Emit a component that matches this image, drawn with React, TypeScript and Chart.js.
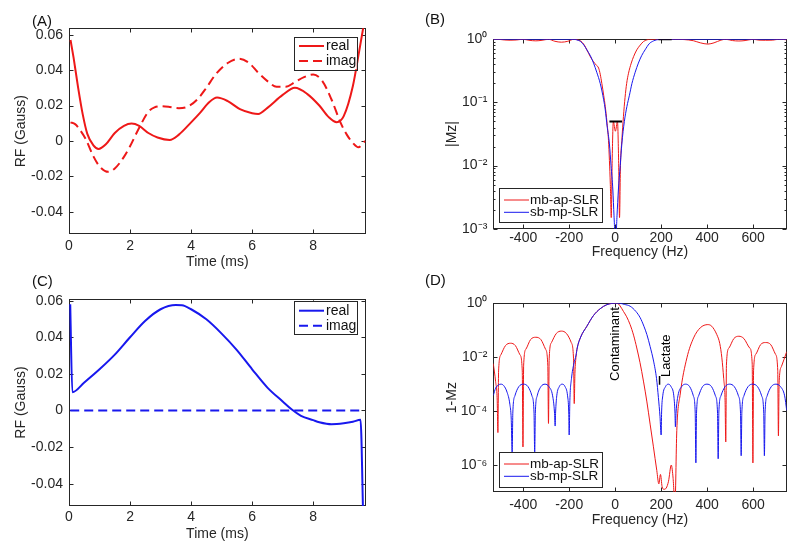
import React, { useEffect, useRef } from 'react';
import { Chart, registerables } from 'chart.js';

Chart.register(...registerables);

const FONT = "'Liberation Sans', Arial, Helvetica, sans-serif";
const INK = '#262626';
const RED = '#ee1818';
const BLUE = '#1818ee';
const BLACK = '#000000';

// ---------- Panel A : mb-ap-SLR RF (time ms, Gauss)
const aReal: [number, number][] = [
  [0.05, 0.057], [0.15, 0.047], [0.3, 0.03], [0.45, 0.015], [0.6, 0.004], [0.8, -0.0025], [0.97, -0.0045],
  [1.2, -0.002], [1.5, 0.0045], [1.8, 0.0085], [2.05, 0.0098], [2.3, 0.0085], [2.6, 0.0045], [2.9, 0.002],
  [3.3, 0.0006], [3.6, 0.0036], [4.0, 0.0105], [4.3, 0.016], [4.6, 0.022], [4.85, 0.0245], [5.2, 0.0225],
  [5.6, 0.018], [6.0, 0.0157], [6.2, 0.0153], [6.5, 0.0187], [7.0, 0.026], [7.4, 0.03], [7.8, 0.0266],
  [8.2, 0.02], [8.5, 0.0136], [8.77, 0.0106], [9.0, 0.014], [9.3, 0.031], [9.5, 0.05], [9.72, 0.072],
];
const aImag: [number, number][] = [
  [0.05, 0.0105], [0.2, 0.0095], [0.35, 0.0065], [0.55, 0.001], [0.8, -0.0087], [1.0, -0.0143], [1.28, -0.0174],
  [1.5, -0.0155], [1.8, -0.009], [2.0, -0.003], [2.3, 0.0075], [2.6, 0.0165], [2.8, 0.019], [3.0, 0.0196],
  [3.3, 0.0192], [3.6, 0.0185], [3.9, 0.0195], [4.2, 0.0234], [4.5, 0.03], [4.8, 0.0375], [5.2, 0.044],
  [5.57, 0.0464], [5.9, 0.044], [6.2, 0.0385], [6.5, 0.0338], [6.8, 0.0306], [7.1, 0.0306], [7.4, 0.0332],
  [7.7, 0.036], [8.0, 0.0375], [8.3, 0.0338], [8.6, 0.0234], [8.9, 0.0102], [9.1, 0.0036], [9.3, -0.0011],
  [9.48, -0.0036], [9.7, 0.0],
];

// ---------- Panel C : sb-mp-SLR RF
const cReal: [number, number][] = [
  [0.04, 0.058], [0.11, 0.01], [0.5, 0.0153], [1.0, 0.0225], [1.5, 0.0305], [2.0, 0.04], [2.5, 0.049],
  [3.0, 0.0553], [3.5, 0.0576], [3.7, 0.0575], [4.0, 0.0553], [4.5, 0.0498], [5.0, 0.042], [5.5, 0.033],
  [6.0, 0.0225], [6.5, 0.0125], [7.0, 0.0049], [7.3, 0.0005], [7.6, -0.0029], [8.0, -0.0053], [8.2, -0.0064],
  [8.6, -0.0075], [9.0, -0.007], [9.3, -0.0062], [9.55, -0.0051], [9.64, -0.06],
];
const cImag: [number, number][] = [[0.04, 0], [9.64, 0]];

// ---------- Panel B : |Mz| vs frequency
const bMbSLR: [number, number][] = [
  [-530, 1.0], [-505, 0.997], [-480, 0.975], [-457, 0.967], [-430, 0.975], [-401, 1.0], [-375, 0.965],
  [-345, 0.945], [-318, 0.965], [-290, 1.0], [-262, 0.93], [-234, 0.9], [-206, 0.93], [-180, 1.0],
  [-165, 0.985], [-150, 0.94], [-135, 0.82], [-123, 0.68], [-108, 0.53], [-94, 0.44], [-82, 0.39],
  [-72, 0.35], [-65, 0.28], [-58, 0.2], [-50, 0.13], [-43, 0.086], [-36, 0.05], [-29, 0.025], [-25, 0.012],
  [-21, 0.005], [-17, 0.0015], [-13, 0.012], [-8, 0.05], [1, 0.035], [10, 0.05], [15, 0.012], [19, 0.0015],
  [23, 0.01], [29, 0.025], [36, 0.06], [43, 0.12], [50, 0.2], [58, 0.29], [70, 0.42], [80, 0.53], [94, 0.68],
  [109, 0.81], [123, 0.92], [138, 0.98], [150, 1.0], [200, 1.0], [260, 1.0], [300, 0.99], [340, 0.95],
  [370, 0.88], [403, 0.84], [430, 0.88], [460, 0.97], [481, 1.0], [510, 0.955], [538, 0.94], [565, 0.955],
  [599, 1.0], [625, 0.97], [654, 0.965], [685, 0.97], [710, 1.0], [746, 0.985],
];
const bSbSLR: [number, number][] = [
  [-530, 1.0], [-200, 1.0], [-175, 0.995], [-160, 0.96], [-150, 0.92], [-135, 0.8], [-123, 0.68],
  [-108, 0.55], [-94, 0.42], [-80, 0.3], [-65, 0.2], [-50, 0.11], [-43, 0.076], [-35, 0.042], [-25, 0.022],
  [-18, 0.01], [-10, 0.0041], [-5, 0.0016], [2, 0.0006], [8, 0.0016], [14, 0.0041], [22, 0.01], [29, 0.022],
  [40, 0.05], [51, 0.086], [62, 0.13], [73, 0.2], [87, 0.3], [101, 0.42], [115, 0.55], [130, 0.68],
  [148, 0.85], [166, 0.94], [180, 0.98], [196, 0.997], [210, 1.0], [746, 1.0],
];
const bPassMark: [number, number][] = [[-25, 0.05], [30, 0.05]];
const bStopMark: [number, number][] = [[188, 1.0], [246, 1.0]];

// ---------- Panel D : 1-Mz vs frequency
const dMbSLR: [number, number][] = [
  [-530, 5.8e-3], [-520, 1.26e-3], [-513, 2.5e-4], [-510, 1.6e-5],
  [-507, 3.1e-3], [-497, 1.23e-2], [-477, 2.7e-2], [-455, 3.3e-2], [-434, 2.7e-2], [-414, 1.23e-2], [-404, 3.1e-3], [-401, 4.7e-6],
  [-398, 5.1e-3], [-388, 2.0e-2], [-368, 4.5e-2], [-345, 5.5e-2], [-323, 4.5e-2], [-303, 2.0e-2], [-293, 5.1e-3], [-290, 3.5e-5],
  [-287, 8.7e-3], [-277, 3.5e-2], [-256, 7.6e-2], [-234, 9.3e-2], [-212, 7.6e-2], [-191, 3.5e-2], [-181, 8.7e-3], [-178, 1.9e-4],
  [-175, 2.5e-3], [-170, 1.1e-2], [-165, 2.2e-2], [-150, 5.6e-2], [-123, 0.141], [-94, 0.355], [-65, 0.631], [-36, 0.891], [-10, 1.0], [10, 1.0],
  [20, 0.83], [36, 0.5], [50, 0.316], [65, 0.162], [80, 6.6e-2], [94, 2.2e-2], [108, 6.3e-3], [123, 1.3e-3], [138, 2.2e-4], [152, 3.3e-5], [166, 5.0e-6], [181, 6.3e-7],
  [190, 2.0e-7], [197, 4.5e-7], [204, 1.6e-7], [212, 1.26e-7], [222, 1.4e-7], [232, 2.5e-7], [244, 1.0e-6], [252, 3.2e-7], [260, 3.2e-8],
  [268, 1.9e-5], [283, 4.3e-4], [312, 9.5e-3], [341, 5.2e-2], [370, 0.123], [403, 0.162], [420, 0.141], [442, 6.9e-2], [455, 3.2e-2], [464, 9.5e-3], [472, 1.6e-3], [478, 2.5e-4], [481, 7.2e-6],
  [484, 5.6e-3], [495, 2.2e-2], [516, 4.9e-2], [538, 6.0e-2], [560, 4.9e-2], [585, 2.2e-2], [596, 5.6e-3], [599, 1.2e-6],
  [602, 3.3e-3], [612, 1.3e-2], [632, 2.9e-2], [654, 3.5e-2], [677, 2.9e-2], [697, 1.3e-2], [707, 3.3e-3], [710, 1.2e-5],
  [713, 1.1e-3], [723, 4.5e-3], [746, 1.6e-2],
];
const dSbSLR: [number, number][] = [
  [-530, 3.8e-4], [-520, 7.1e-4], [-508, 9.3e-4], [-497, 1.0e-3], [-485, 8.9e-4], [-470, 5.0e-4], [-458, 1.8e-4], [-452, 5.0e-5], [-448, 2.8e-6],
  [-445, 9.3e-5], [-436, 3.7e-4], [-419, 8.1e-4], [-399, 1.0e-3], [-379, 8.1e-4], [-362, 3.7e-4], [-353, 9.3e-5], [-350, 2.8e-6],
  [-347, 9.3e-5], [-339, 3.7e-4], [-323, 8.1e-4], [-305, 1.0e-3], [-288, 8.1e-4], [-272, 3.7e-4], [-264, 9.3e-5], [-261, 2.8e-5],
  [-259, 9.3e-5], [-254, 3.7e-4], [-243, 8.1e-4], [-230, 1.0e-3], [-218, 8.1e-4], [-207, 3.7e-4], [-202, 9.3e-5], [-200, 1.3e-5],
  [-197, 2.5e-4], [-190, 1.6e-3], [-180, 5.6e-3], [-170, 1.2e-2], [-165, 2.2e-2], [-150, 5.6e-2], [-123, 0.141], [-94, 0.355], [-65, 0.631], [-36, 0.891],
  [0, 1.0], [20, 1.0], [40, 0.91], [65, 0.78], [90, 0.5], [109, 0.29], [125, 0.141], [138, 6.9e-2], [152, 2.5e-2], [167, 7.2e-3], [180, 1.6e-3], [188, 3.2e-4], [195, 6.3e-5], [200, 1.3e-5],
  [202, 9.3e-5], [207, 3.7e-4], [219, 8.1e-4], [231, 1.0e-3], [243, 8.1e-4], [255, 3.7e-4], [260, 9.3e-5], [262, 2.6e-5],
  [265, 9.3e-5], [273, 3.7e-4], [289, 8.1e-4], [306, 1.0e-3], [324, 8.1e-4], [340, 3.7e-4], [348, 9.3e-5], [351, 1.2e-6],
  [354, 9.3e-5], [363, 3.7e-4], [380, 8.1e-4], [399, 1.0e-3], [419, 8.1e-4], [436, 3.7e-4], [445, 9.3e-5], [448, 1.7e-6],
  [451, 9.3e-5], [460, 3.7e-4], [478, 8.1e-4], [498, 1.0e-3], [518, 8.1e-4], [536, 3.7e-4], [545, 9.3e-5], [548, 2.2e-6],
  [551, 9.3e-5], [560, 3.7e-4], [578, 8.1e-4], [598, 1.0e-3], [619, 8.1e-4], [637, 3.7e-4], [646, 9.3e-5], [649, 2.2e-6],
  [652, 9.3e-5], [661, 3.7e-4], [679, 8.1e-4], [699, 1.0e-3], [719, 8.1e-4], [737, 3.7e-4], [746, 1.07e-4],
];
const dLactateMark: [number, number][] = [[193, 2.0e-3], [193, 9.5e-4]];

// ---------- ticks
const timeTicks = [0, 2, 4, 6, 8];
const timeTickLabels = ['0', '2', '4', '6', '8'];
const rfTicks = [-0.04, -0.02, 0, 0.02, 0.04, 0.06];
const rfTickLabels = ['-0.04', '-0.02', '0', '0.02', '0.04', '0.06'];
const freqTicks = [-400, -200, 0, 200, 400, 600];
const freqTickLabels = ['-400', '-200', '0', '200', '400', '600'];
const mzTicks = [1e-3, 1e-2, 1e-1, 1];
const mzTickLabels = ['10\u207B\u00B3', '10\u207B\u00B2', '10\u207B\u00B9', '10\u2070'];
const mzMinorTicks = [
  2e-3, 3e-3, 4e-3, 5e-3, 6e-3, 7e-3, 8e-3, 9e-3,
  2e-2, 3e-2, 4e-2, 5e-2, 6e-2, 7e-2, 8e-2, 9e-2,
  2e-1, 3e-1, 4e-1, 5e-1, 6e-1, 7e-1, 8e-1, 9e-1,
];
const omTicks = [1e-6, 1e-4, 1e-2, 1];
const omTickLabels = ['10\u207B\u2076', '10\u207B\u2074', '10\u207B\u00B2', '10\u2070'];

const W = 400;
const H = 274;

function series(data: [number, number][], color: string, width: number, dash: number[] = [], smooth = true) {
  return {
    data: data.map(([x, y]) => ({ x, y })),
    borderColor: color,
    backgroundColor: color,
    borderWidth: width,
    borderDash: dash,
    pointRadius: 0,
    fill: false,
    tension: smooth ? 0.4 : 0,
    cubicInterpolationMode: smooth ? 'monotone' : 'default',
  };
}

const panels: any[] = [
  {
    key: 'A', left: 0, top: 0, label: '(A)', labelX: 32, labelY: 25.5,
    area: { left: 69, top: 28.3, right: 365.7, bottom: 234 },
    x: { type: 'linear', min: 0, max: 9.72, ticks: timeTicks, labels: timeTickLabels, title: 'Time (ms)', tickPad: 3.6, titlePad: 3.6 },
    y: { type: 'linear', min: -0.0525, max: 0.0636, ticks: rfTicks, labels: rfTickLabels, minor: [], title: 'RF (Gauss)', titlePad: 12.6 },
    datasets: [series(aReal, RED, 2), series(aImag, RED, 2, [9, 5])],
    legend: {
      x: 294, y: 36.7, w: 62.7, h: 32.6, sx0: 299, sx1: 324, tx: 326, font: 14,
      rows: [
        { text: 'real', y: 46, color: RED, width: 2, dash: [] },
        { text: 'imag', y: 61, color: RED, width: 2, dash: [9, 5] },
      ],
    },
    notes: [],
  },
  {
    key: 'B', left: 400, top: 0, label: '(B)', labelX: 25, labelY: 24,
    area: { left: 93.3, top: 39.3, right: 386.7, bottom: 228.7 },
    x: { type: 'linear', min: -530, max: 746, ticks: freqTicks, labels: freqTickLabels, title: 'Frequency (Hz)', tickPad: 1.4, titlePad: 13.1 },
    y: { type: 'logarithmic', min: 1e-3, max: 1, ticks: mzTicks, labels: mzTickLabels, minor: mzMinorTicks, title: '|Mz|', titlePad: 44.1 },
    datasets: [
      series(bPassMark, BLACK, 2, [], false),
      series(bStopMark, BLACK, 2, [], false),
      series(bSbSLR, BLUE, 1),
      series(bMbSLR, RED, 1),
    ],
    legend: {
      x: 99, y: 188.3, w: 102.7, h: 34.4, sx0: 104, sx1: 129, tx: 130, font: 13.5,
      rows: [
        { text: 'mb-ap-SLR', y: 200, color: RED, width: 1, dash: [] },
        { text: 'sb-mp-SLR', y: 212.3, color: BLUE, width: 1, dash: [] },
      ],
    },
    notes: [],
  },
  {
    key: 'C', left: 0, top: 274, label: '(C)', labelX: 32, labelY: 12,
    area: { left: 69, top: 25, right: 365.7, bottom: 232 },
    x: { type: 'linear', min: 0, max: 9.72, ticks: timeTicks, labels: timeTickLabels, title: 'Time (ms)', tickPad: 2.9, titlePad: 5.6 },
    y: { type: 'linear', min: -0.0522, max: 0.0609, ticks: rfTicks, labels: rfTickLabels, minor: [], title: 'RF (Gauss)', titlePad: 12.6 },
    datasets: [series(cReal, BLUE, 2), series(cImag, BLUE, 2, [9, 5], false)],
    legend: {
      x: 294, y: 26.7, w: 63, h: 33.3, sx0: 299, sx1: 324, tx: 326, font: 14,
      rows: [
        { text: 'real', y: 36.7, color: BLUE, width: 2, dash: [] },
        { text: 'imag', y: 51.7, color: BLUE, width: 2, dash: [9, 5] },
      ],
    },
    notes: [],
  },
  {
    key: 'D', left: 400, top: 274, label: '(D)', labelX: 25, labelY: 10.5,
    area: { left: 93.3, top: 29.3, right: 386.7, bottom: 218 },
    x: { type: 'linear', min: -530, max: 746, ticks: freqTicks, labels: freqTickLabels, title: 'Frequency (Hz)', tickPad: 4.3, titlePad: 19.8 },
    y: { type: 'logarithmic', min: 1e-7, max: 1, ticks: omTicks, labels: omTickLabels, minor: [], title: '1-Mz', titlePad: 44.1 },
    datasets: [
      series(dLactateMark, BLACK, 1.5, [], false),
      series(dSbSLR, BLUE, 1),
      series(dMbSLR, RED, 1),
    ],
    legend: {
      x: 99, y: 178.3, w: 103, h: 35, sx0: 104, sx1: 129, tx: 130, font: 13.5,
      rows: [
        { text: 'mb-ap-SLR', y: 190, color: RED, width: 1, dash: [] },
        { text: 'sb-mp-SLR', y: 202.3, color: BLUE, width: 1, dash: [] },
      ],
    },
    notes: [
      { x: 0, y: 1.32e-3, text: 'Contaminant' },
      { x: 225, y: 1.83e-3, text: 'Lactate' },
    ],
  },
];

function framePlugin(p: any) {
  return {
    id: 'matlabFrame' + p.key,
    beforeDatasetsDraw(chart: any) {
      const ctx = chart.ctx;
      const a = chart.chartArea;
      const xs = chart.scales.x;
      const ys = chart.scales.y;
      const L = Math.round(a.left) + 0.5;
      const R = Math.round(a.right) - 0.5;
      const T = Math.round(a.top) + 0.5;
      const B = Math.round(a.bottom) - 0.5;
      ctx.save();
      ctx.strokeStyle = INK;
      ctx.lineWidth = 1;
      ctx.strokeRect(L, T, R - L, B - T);
      ctx.beginPath();
      for (const v of p.x.ticks) {
        const x = Math.round(xs.getPixelForValue(v)) + 0.5;
        ctx.moveTo(x, B); ctx.lineTo(x, B - 4);
        ctx.moveTo(x, T); ctx.lineTo(x, T + 4);
      }
      for (const v of p.y.ticks) {
        const y = Math.round(ys.getPixelForValue(v)) + 0.5;
        ctx.moveTo(L, y); ctx.lineTo(L + 4, y);
        ctx.moveTo(R, y); ctx.lineTo(R - 4, y);
      }
      for (const v of p.y.minor) {
        const y = Math.round(ys.getPixelForValue(v)) + 0.5;
        ctx.moveTo(L, y); ctx.lineTo(L + 2, y);
        ctx.moveTo(R, y); ctx.lineTo(R - 2, y);
      }
      ctx.stroke();
      ctx.restore();
    },
    afterDraw(chart: any) {
      const ctx = chart.ctx;
      const xs = chart.scales.x;
      const ys = chart.scales.y;
      ctx.save();
      // annotations
      for (const n of p.notes) {
        const px = xs.getPixelForValue(n.x);
        const py = ys.getPixelForValue(n.y);
        ctx.save();
        ctx.translate(px, py);
        ctx.rotate(-Math.PI / 2);
        ctx.font = `13px ${FONT}`;
        ctx.fillStyle = BLACK;
        ctx.textAlign = 'left';
        ctx.textBaseline = 'middle';
        ctx.fillText(n.text, 0, 0);
        ctx.restore();
      }
      // legend
      const lg = p.legend;
      ctx.fillStyle = '#ffffff';
      ctx.fillRect(lg.x, lg.y, lg.w, lg.h);
      ctx.strokeStyle = INK;
      ctx.lineWidth = 1;
      ctx.strokeRect(Math.round(lg.x) + 0.5, Math.round(lg.y) + 0.5, Math.round(lg.w), Math.round(lg.h));
      for (const r of lg.rows) {
        ctx.beginPath();
        ctx.strokeStyle = r.color;
        ctx.lineWidth = r.width;
        ctx.setLineDash(r.dash);
        ctx.moveTo(lg.sx0, r.y);
        ctx.lineTo(lg.sx1, r.y);
        ctx.stroke();
        ctx.setLineDash([]);
        ctx.font = `${lg.font}px ${FONT}`;
        ctx.fillStyle = '#111111';
        ctx.textAlign = 'left';
        ctx.textBaseline = 'middle';
        ctx.fillText(r.text, lg.tx, r.y);
      }
      // panel label
      ctx.font = `15px ${FONT}`;
      ctx.fillStyle = '#111111';
      ctx.textAlign = 'left';
      ctx.textBaseline = 'alphabetic';
      ctx.fillText(p.label, p.labelX, p.labelY);
      ctx.restore();
    },
  };
}

function buildConfig(p: any): any {
  const axisCommon = {
    bounds: 'data',
    grid: { display: false, drawTicks: false },
    border: { display: false },
  };
  return {
    type: 'line',
    data: { datasets: p.datasets },
    options: {
      animation: false,
      responsive: false,
      maintainAspectRatio: false,
      events: [],
      layout: { padding: { left: 0, top: p.area.top, right: W - p.area.right, bottom: 0 } },
      plugins: { legend: { display: false }, tooltip: { enabled: false }, title: { display: false } },
      scales: {
        x: {
          ...axisCommon,
          type: p.x.type,
          position: 'bottom',
          min: p.x.min,
          max: p.x.max,
          ticks: {
            padding: p.x.tickPad, color: INK, font: { size: 14, family: FONT },
            maxRotation: 0, minRotation: 0, autoSkip: false,
            callback: (_v: any, i: number) => p.x.labels[i],
          },
          afterBuildTicks: (s: any) => { s.ticks = p.x.ticks.map((v: number) => ({ value: v })); },
          afterFit: (s: any) => { s.height = H - p.area.bottom; },
          title: { display: true, text: p.x.title, color: INK, font: { size: 14, family: FONT }, padding: { top: 0, bottom: p.x.titlePad } },
        },
        y: {
          ...axisCommon,
          type: p.y.type,
          position: 'left',
          min: p.y.min,
          max: p.y.max,
          ticks: {
            padding: 6, color: INK, font: { size: 14, family: FONT }, autoSkip: false,
            callback: (_v: any, i: number) => p.y.labels[i],
          },
          afterBuildTicks: (s: any) => { s.ticks = p.y.ticks.map((v: number) => ({ value: v })); },
          afterFit: (s: any) => { s.width = p.area.left; },
          title: { display: true, text: p.y.title, color: INK, font: { size: 14, family: FONT }, padding: { top: p.y.titlePad, bottom: 0 } },
        },
      },
    },
    plugins: [framePlugin(p)],
  };
}

function Panel({ p }: { p: any }) {
  const ref = useRef<HTMLCanvasElement>(null);
  useEffect(() => {
    const chart = new Chart(ref.current as HTMLCanvasElement, buildConfig(p));
    return () => chart.destroy();
  }, [p]);
  return (
    <canvas
      ref={ref}
      width={W}
      height={H}
      style={{ position: 'absolute', left: p.left, top: p.top, width: W, height: H }}
    />
  );
}

export default function App() {
  Chart.defaults.font.family = FONT;
  Chart.defaults.color = INK;
  return (
    <div style={{ position: 'absolute', left: 0, top: 0, width: 800, height: 548, background: '#ffffff', overflow: 'hidden' }}>
      {panels.map((p) => (
        <Panel key={p.key} p={p} />
      ))}
    </div>
  );
}
